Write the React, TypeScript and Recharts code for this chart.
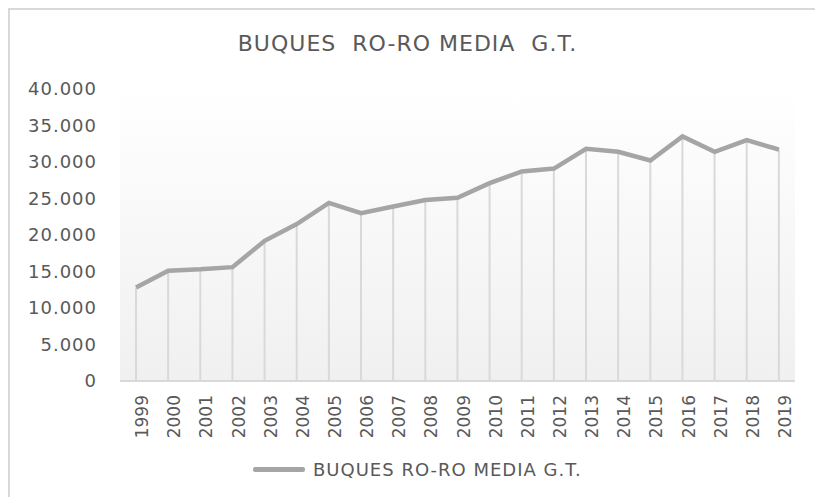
import React from "react";
import {
  ComposedChart,
  Line,
  Bar,
  XAxis,
  YAxis,
  CartesianGrid,
  Legend,
} from "recharts";

const years = [
  "1999", "2000", "2001", "2002", "2003", "2004", "2005", "2006", "2007", "2008", "2009",
  "2010", "2011", "2012", "2013", "2014", "2015", "2016", "2017", "2018", "2019",
];

const mediaGT = [
  12800, 15100, 15300, 15600, 19200, 21500, 24400, 23000, 23900, 24800, 25100,
  27100, 28700, 29100, 31800, 31400, 30200, 33500, 31400, 33000, 31700,
];

const yTicks = [0, 5000, 10000, 15000, 20000, 25000, 30000, 35000, 40000];

const seriesName = "BUQUES RO-RO MEDIA G.T.";

const data = years.map((year, i) => ({ year, value: mediaGT[i] }));

const font = "'DejaVu Sans', sans-serif";
const textColor = "#595959";

// 40000 -> "40.000"
const fmt = (v: number) => String(v).replace(/\B(?=(\d{3})+(?!\d))/g, ".");

const LegendContent = () => (
  <div style={{ display: "flex", alignItems: "center", fontFamily: font }}>
    <span
      style={{
        display: "inline-block",
        width: 52,
        height: 5,
        borderRadius: 2,
        background: "#a5a5a5",
        marginRight: 8,
      }}
    />
    <span style={{ fontSize: 18, color: textColor, letterSpacing: 1, whiteSpace: "nowrap" }}>
      {seriesName}
    </span>
  </div>
);

export default function App() {
  return (
    // fixed so the frame can run off the right/bottom edge without scrollbars
    <div
      style={{
        position: "fixed",
        left: 8,
        top: 8,
        width: 805,
        height: 487,
        borderTop: "2px solid #d9d9d9",
        borderLeft: "2px solid #d9d9d9",
        background: "#fff",
      }}
    >
      <div
        style={{
          position: "absolute",
          left: 0,
          top: 21,
          width: 795,
          textAlign: "center",
          fontFamily: font,
          fontSize: 22,
          letterSpacing: 1,
          color: textColor,
          whiteSpace: "pre",
          zIndex: 2,
        }}
      >
        {"BUQUES  RO-RO MEDIA  G.T."}
      </div>
      <ComposedChart
        width={805}
        height={487}
        data={data}
        margin={{ top: 79, right: 20, bottom: 56, left: 0 }}
      >
        <defs>
          <linearGradient id="plotBg" x1="0" y1="0" x2="0" y2="1">
            <stop offset="0%" stopColor="#ffffff" />
            <stop offset="100%" stopColor="#f0f0f0" />
          </linearGradient>
        </defs>
        <CartesianGrid horizontal={false} vertical={false} fill="url(#plotBg)" stroke="none" />
        <XAxis
          dataKey="year"
          height={60}
          interval={0}
          tickLine={false}
          tickSize={0}
          tickMargin={14}
          axisLine={{ stroke: "#d9d9d9", strokeWidth: 2 }}
          angle={-90}
          textAnchor="end"
          tick={{ fill: textColor, fontSize: 17, fontFamily: font, verticalAnchor: "middle" } as any}
        />
        <YAxis
          width={110}
          domain={[0, 40000]}
          ticks={yTicks}
          interval={0}
          axisLine={false}
          tickLine={false}
          tickSize={0}
          tickMargin={23}
          tickFormatter={fmt}
          tick={{ fill: textColor, fontSize: 18, fontFamily: font, letterSpacing: 1 }}
        />
        <Legend
          verticalAlign="middle"
          align="center"
          wrapperStyle={{ left: 243, top: 449, width: 400 }}
          content={LegendContent}
        />
        <Bar
          dataKey="value"
          barSize={2}
          fill="#d9d9d9"
          legendType="none"
          isAnimationActive={false}
        />
        <Line
          type="linear"
          dataKey="value"
          name={seriesName}
          stroke="#a5a5a5"
          strokeWidth={4.5}
          dot={false}
          activeDot={false}
          isAnimationActive={false}
        />
      </ComposedChart>
    </div>
  );
}
